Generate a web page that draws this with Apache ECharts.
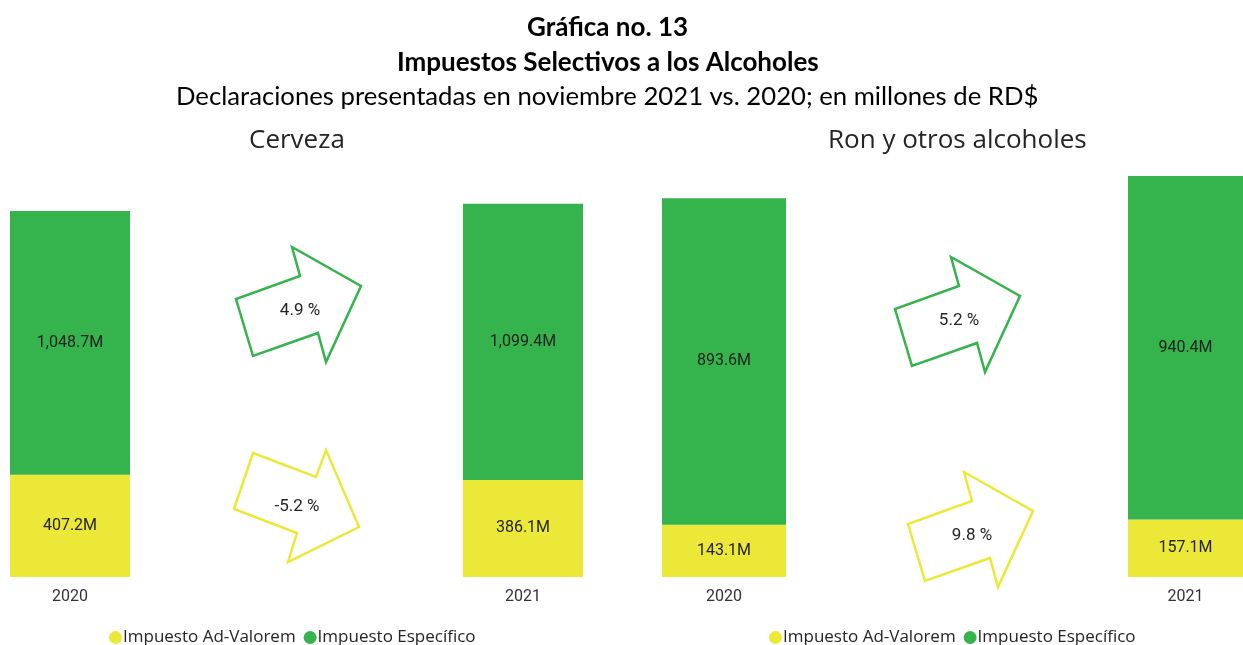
<!DOCTYPE html>
<html>
<head>
<meta charset="utf-8">
<script src="https://cdn.jsdelivr.net/npm/echarts@6/dist/echarts.min.js"></script>
<style>
  html, body { margin: 0; padding: 0; background: #fff; }
  #chart { width: 1243px; height: 645px; }
</style>
</head>
<body>
<div id="chart"></div>
<script>
// datos (millones de RD$)
var years = ['2020', '2021'];
var cervezaAdValorem = [407.2, 386.1];
var cervezaEspecifico = [1048.7, 1099.4];
var ronAdValorem = [143.1, 157.1];
var ronEspecifico = [893.6, 940.4];
// variacion 2021 vs 2020 (%)
var cervezaVar = [4.9, -5.2];   // [especifico, ad-valorem]
var ronVar = [5.2, 9.8];

var colorAdValorem = '#EBE838';
var colorEspecifico = '#35B34C';
var labelFont = 'Roboto';

var chart = echarts.init(document.getElementById('chart'));

function fmtM(v) {
    return v.toLocaleString('en-US', {minimumFractionDigits: 1, maximumFractionDigits: 1}) + 'M';
}

// una cuadricula por barra
var grids = [
    {left: 10, top: 200, width: 120, height: 377},
    {left: 463, top: 200, width: 120, height: 377},
    {left: 662, top: 175, width: 124, height: 402},
    {left: 1128, top: 175, width: 124, height: 402}
];
var maxes = [1500, 1500, 1100, 1100];

var xAxes = [], yAxes = [], series = [];
grids.forEach(function(g, i){
    var yi = i % 2;
    var adv = i < 2 ? cervezaAdValorem : ronAdValorem;
    var esp = i < 2 ? cervezaEspecifico : ronEspecifico;
    xAxes.push({
        type: 'category', gridIndex: i, data: [years[yi]],
        axisLine: {show: false}, axisTick: {show: false},
        axisLabel: {color: '#333', fontSize: 16, fontFamily: labelFont, margin: 12}
    });
    yAxes.push({
        type: 'value', gridIndex: i, min: 0, max: maxes[i], show: false,
        splitLine: {show: false}
    });
    var lbl = {
        show: true, position: 'inside', color: '#252423',
        fontSize: 16, fontFamily: labelFont,
        formatter: function(p){ return fmtM(p.value); }
    };
    series.push({
        name: 'Impuesto Ad-Valorem', type: 'bar', stack: 's' + i,
        xAxisIndex: i, yAxisIndex: i, barWidth: '100%',
        itemStyle: {color: colorAdValorem}, label: lbl,
        data: [adv[yi]]
    });
    series.push({
        name: 'Impuesto Específico', type: 'bar', stack: 's' + i,
        xAxisIndex: i, yAxisIndex: i, barWidth: '100%',
        itemStyle: {color: colorEspecifico}, label: lbl,
        data: [esp[yi]]
    });
});

// flechas
var upArrow = [[-47,45],[-64,-12],[0,-35],[-8,-64],[61,-25],[26,51],[18,22]];
var downArrow = [[-44,-54],[19,-30],[29,-57],[62,20],[-9,55],[0,26],[-63,2]];

function arrow(cx, cy, value, color) {
    var shape = value < 0 ? downArrow : upArrow;
    var pts = shape.map(function(p){ return [cx + p[0], cy + p[1]]; });
    return [
        {type: 'polygon', shape: {points: pts}, style: {fill: '#fff', stroke: color, lineWidth: 2.5}},
        {type: 'text', x: cx, y: cy, style: {
            text: (value < 0 ? '-' : '') + Math.abs(value).toFixed(1) + ' %',
            fill: '#252423', font: '17px ' + labelFont, align: 'center', verticalAlign: 'middle'
        }}
    ];
}

var graphics = [].concat(
    arrow(300, 311, cervezaVar[0], colorEspecifico),
    arrow(297, 507, cervezaVar[1], colorAdValorem),
    arrow(959, 321, ronVar[0], colorEspecifico),
    arrow(972, 536, ronVar[1], colorAdValorem)
);

var legendStyle = {
    icon: 'circle', itemWidth: 13, itemHeight: 13, itemGap: 8,
    textStyle: {color: '#252423', fontSize: 17, fontFamily: 'Open Sans', padding: [0, 0, 0, -4]},
    data: ['Impuesto Ad-Valorem', 'Impuesto Específico']
};

var option = {
    backgroundColor: '#fff',
    animation: false,
    title: [
        {text: 'Gráfica no. 13', left: 522, top: 10,
         textStyle: {fontSize: 26, fontWeight: 'bold', color: '#000', fontFamily: 'Lato'}},
        {text: 'Impuestos Selectivos a los Alcoholes', left: 392, top: 45,
         textStyle: {fontSize: 26, fontWeight: 'bold', color: '#000', fontFamily: 'Lato'}},
        {text: 'Declaraciones presentadas en noviembre 2021 vs. 2020; en millones de RD$', left: 171, top: 79,
         textStyle: {fontSize: 25.7, fontWeight: 'normal', color: '#000', fontFamily: 'Lato'}},
        {text: 'Cerveza', left: 244, top: 123,
         textStyle: {fontSize: 26, fontWeight: 'normal', color: '#252423', fontFamily: 'Open Sans'}},
        {text: 'Ron y otros alcoholes', left: 823, top: 123,
         textStyle: {fontSize: 26, fontWeight: 'normal', color: '#252423', fontFamily: 'Open Sans'}}
    ],
    legend: [
        Object.assign({left: 104, top: 624}, legendStyle),
        Object.assign({left: 764, top: 624}, legendStyle)
    ],
    grid: grids,
    xAxis: xAxes,
    yAxis: yAxes,
    series: series,
    graphic: graphics
};

chart.setOption(option);
</script>
</body>
</html>
